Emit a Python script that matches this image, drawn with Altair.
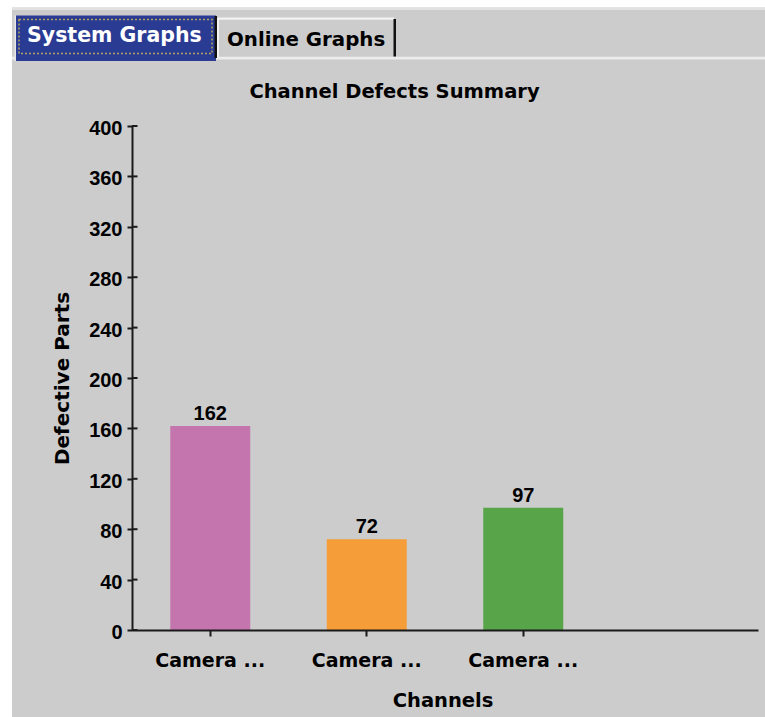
import altair as alt
import pandas as pd

# ---- data -------------------------------------------------------------
channels = ["Camera 1", "Camera 2", "Camera 3"]
defects = [162, 72, 97]
bar_colors = ["#c475ad", "#f59d38", "#57a449"]
# category axis keeps one empty slot after the last channel
channel_slots = channels + [""]
y_ticks = [0, 40, 80, 120, 160, 200, 240, 280, 320, 360, 400]

df = pd.DataFrame({"channel": channels, "defects": defects})
ticks_df = pd.DataFrame({"tick": y_ticks})

# ---- layout -----------------------------------------------------------
W, H = 626, 504          # plot area
LEFT, TOP = 132, 126     # plot origin inside the 765 x 717 page
RIGHT, BOTTOM = 7, 87

TEXT_FONT = "DejaVu Sans"
NUM_FONT = "Liberation Sans"
INK = "#1a1a1a"


def px(x):
    return x - LEFT


def py(y):
    return y - TOP


one = alt.Data(values=[{}])


def box(x1, x2, y1, y2, **kw):
    """A rectangle of the window frame, in page pixels."""
    return alt.Chart(one).mark_rect(**kw).encode(
        x=alt.value(px(x1)), x2=alt.value(px(x2)),
        y=alt.value(py(y1)), y2=alt.value(py(y2)),
    )


def label(text, x, y, **kw):
    return alt.Chart(one).mark_text(
        font=TEXT_FONT, fontWeight="bold", baseline="alphabetic", **kw
    ).encode(x=alt.value(px(x)), y=alt.value(py(y)), text=alt.value(text))


# ---- window frame and tabs --------------------------------------------
frame = [
    box(0, 765, 0, 7.5, color="white"),
    box(0, 12, 0, 717, color="white"),
    box(12, 765, 7.5, 10, color="#e2e2e2"),
    box(12, 765, 56.8, 59.5, color="#ececec"),
    # selected tab
    box(14.5, 16, 15.5, 61, color="#e6e6e6"),
    box(16, 216, 15.5, 61, color="#2a3b94"),
    box(214.5, 217, 16, 58, color="#111111"),
    box(19, 212, 19.5, 53.5, filled=False, stroke="#b3a55c",
        strokeWidth=1.5, strokeDash=[2, 2]),
    # unselected tab
    box(217, 219, 18, 57, color="#f2f2f2"),
    box(218, 394, 17.5, 19.8, color="#f2f2f2"),
    box(393.5, 396, 19, 56.5, color="#111111"),
]

texts = [
    label("System Graphs", 27, 41.5, align="left", fontSize=20.5, color="white"),
    label("Online Graphs", 227, 45.5, align="left", fontSize=19.8, color="black"),
    label("Channel Defects Summary", 394.5, 98.3, align="center",
          fontSize=19.5, color="black"),
]

# ---- chart ------------------------------------------------------------
x_enc = alt.X(
    "channel:N",
    scale=alt.Scale(domain=channel_slots, paddingInner=0.489, paddingOuter=0.2445),
    axis=alt.Axis(
        values=channels,
        labelExpr="substring(datum.label, 0, 6) + ' ...'",
        labelAngle=0,
        labelFont=TEXT_FONT, labelFontWeight="bold", labelFontSize=19,
        labelColor="black", labelPadding=15,
        tickSize=6, tickWidth=2, tickColor=INK,
        domainColor=INK, domainWidth=2,
        title="Channels", titleFont=TEXT_FONT, titleFontWeight="bold",
        titleFontSize=19.5, titleColor="black",
        titleX=310.5, titleY=76, titleAlign="center", titleBaseline="alphabetic",
        zindex=1,
    ),
)

y_scale = alt.Scale(domain=[0, 400], nice=False)

y_axis = alt.Axis(
    values=y_ticks, format="d", grid=False,
    labelFont=NUM_FONT, labelFontWeight="bold", labelFontSize=20,
    labelColor="black", labelPadding=5, labelOffset=2.5,
    tickSize=5, tickWidth=2, tickColor=INK,
    domainColor=INK, domainWidth=2,
    title="Defective Parts", titleFont=TEXT_FONT, titleFontWeight="bold",
    titleFontSize=20, titleColor="black", titleAngle=-90,
    titleX=-64, titleY=252, titleAlign="center", titleBaseline="alphabetic",
    zindex=1,
)

bars = alt.Chart(df).mark_bar().encode(
    x=x_enc,
    y=alt.Y("defects:Q", scale=y_scale, axis=y_axis),
    color=alt.Color("channel:N", scale=alt.Scale(domain=channels, range=bar_colors),
                    legend=None),
)

values = alt.Chart(df).mark_text(
    dy=-6, baseline="alphabetic", font=NUM_FONT, fontWeight="bold",
    fontSize=20, color="black",
).encode(x="channel:N", y="defects:Q", text="defects:Q")

# ticks also reach a little into the plot, to the right of the axis line
inner_ticks = alt.Chart(ticks_df).mark_rule(color=INK, strokeWidth=2).encode(
    y=alt.Y("tick:Q", scale=y_scale, axis=y_axis),
    x=alt.value(0), x2=alt.value(5.5),
)

chart = alt.layer(*frame, *texts, bars, values, inner_ticks).properties(
    width=W, height=H,
    padding={"left": LEFT, "top": TOP, "right": RIGHT, "bottom": BOTTOM},
    autosize=alt.AutoSizeParams(type="none"),
).configure(background="#cccccc").configure_view(strokeWidth=0)

chart.save("out.html", embed_options={"renderer": "svg", "actions": False})
